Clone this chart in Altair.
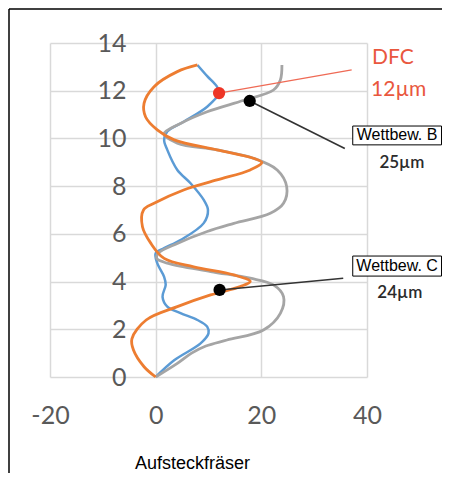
import altair as alt
import pandas as pd

# ---- data ----
blue_y = [0, 0.7, 1.41, 1.83, 2.11, 2.39, 2.68, 2.95, 3.36, 3.87, 4.2, 4.77, 5.19, 5.4, 5.74, 6.45, 7.0, 7.42, 8.12, 8.68, 9.52, 9.94, 10.29, 10.7, 11.33, 11.9, 12.17, 12.6, 13.08]
blue_x = [0, 3.5, 8.5, 10, 9.75, 7.9, 4.7, 2.2, 1.3, 1.9, 1.6, 0.3, 0, 1.6, 4.7, 9.1, 9.9, 9.1, 6.6, 4.1, 2.2, 1.6, 2.2, 5.3, 9.75, 12, 11.6, 9.8, 7.9]

orange_y = [0, 0.43, 1.13, 1.6, 2.39, 2.95, 3.44, 3.79, 4.0, 4.28, 4.62, 4.97, 5.6, 6.3, 7.0, 7.28, 7.84, 8.26, 8.68, 8.99, 9.17, 9.52, 9.94, 10.36, 10.9, 11.47, 12.17, 12.8, 13.08]
orange_x = [0, -2.2, -4.2, -4.5, -1.8, 4.1, 10.4, 16, 17.9, 14.8, 7.2, 1.6, -0.9, -2.5, -2.3, -0.3, 5.3, 11.6, 17.9, 20.1, 18.5, 11.6, 3.5, 0.3, -1.9, -2.2, -0.3, 4.1, 7.9]

gray_y = [0, 0.57, 1.0, 1.3, 1.55, 1.97, 2.67, 3.37, 3.86, 4.14, 4.42, 4.77, 4.97, 5.19, 5.6, 6.1, 6.44, 6.86, 7.28, 7.98, 8.68, 9.17, 9.52, 9.8, 10.2, 10.63, 11.12, 11.6, 12.03, 12.45, 13.08]
gray_x = [0, 4.1, 6.8, 9.5, 13.5, 20.4, 23.6, 24.2, 22.3, 17.9, 10.4, 2.2, 0.2, 0.5, 4.1, 9.75, 14.8, 21.7, 24.2, 24.8, 23, 18.5, 11.6, 4.1, 1.6, 4.7, 9.75, 16.7, 22.3, 23.6, 23.9]

# markers and their leader lines
pt_names = ["DFC", "Wettbew. B", "Wettbew. C"]
pt_x = [12, 17.8, 12.1]
pt_y = [11.9, 11.57, 3.65]
lead_x2 = [37.1, 35.8, 35.5]
lead_y2 = [12.87, 9.58, 4.14]
pt_colors = ["#ee3526", "#000000", "#000000"]
lead_colors = ["#ef6a55", "#333333", "#333333"]
lead_widths = [1.2, 1.6, 1.6]

# labels
dfc_text = ["DFC", "12µm"]
dfc_x = [44.9, 46.0]
dfc_y = [13.37, 12.03]
box_text = ["Wettbew. B", "Wettbew. C"]
box_x = [45.7, 45.7]
box_y = [10.13, 4.65]
box_x1 = [37.3, 37.3]
box_x2 = [54.1, 54.1]
box_y1 = [10.52, 5.07]
box_y2 = [9.73, 4.23]
val_text = ["25µm", "24µm"]
val_x = [46.6, 46.2]
val_y = [8.97, 3.52]

x_ticks = [-20, 0, 20, 40]
y_ticks = [0, 2, 4, 6, 8, 10, 12, 14]
x_title = "Aufsteckfräser"

W, H = 317, 334
PAD = {"left": 42, "top": 35, "right": 75, "bottom": 96}

def series_df(name, xs, ys):
    return pd.DataFrame({"series": name, "order": list(range(len(xs))), "x": xs, "y": ys})

xaxis = alt.Axis(values=x_ticks, grid=True, gridColor="#d9d9d9", gridWidth=1.5,
                 domain=False, ticks=False, labelPadding=26, labelFontSize=25,
                 labelFont="Lato", labelColor="#595959", labelExpr="'' + datum.value",
                 labelFlush=False, labelOverlap=False,
                 title=x_title, titleFont="Liberation Sans", titleFontSize=18,
                 titleFontWeight="normal", titleColor="#000000", titleX=142, titleY=86,
                 titleBaseline="middle", titleAlign="center")
yaxis = alt.Axis(values=y_ticks, grid=True, gridColor="#d9d9d9", gridWidth=1.5,
                 domain=False, ticks=False, offset=-105, labelPadding=29,
                 labelFlush=False, labelOverlap=False,
                 labelFontSize=25, labelFont="Lato", labelColor="#595959", title=None)

xscale = alt.Scale(domain=[-20, 40], nice=False, zero=False)
yscale = alt.Scale(domain=[0, 14], nice=False, zero=False)

def X(f="x"):
    return alt.X(f"{f}:Q", scale=xscale, axis=xaxis)

def Y(f="y"):
    return alt.Y(f"{f}:Q", scale=yscale, axis=yaxis)

def line_layer(name, xs, ys, color, w):
    return alt.Chart(series_df(name, xs, ys)).mark_line(
        color=color, strokeWidth=w, interpolate="catmull-rom", clip=False
    ).encode(x=X(), y=Y(), order="order:Q")

blue = line_layer("blue", blue_x, blue_y, "#5b9bd5", 2.5)
gray = line_layer("gray", gray_x, gray_y, "#a5a5a5", 2.8)
orange = line_layer("orange", orange_x, orange_y, "#ed7d31", 2.8)

pts_df = pd.DataFrame({"name": pt_names, "x": pt_x, "y": pt_y, "x2": lead_x2, "y2": lead_y2,
                       "pc": pt_colors, "lc": lead_colors, "lw": lead_widths})

leads = alt.Chart(pts_df).mark_rule(clip=False).encode(
    x=X(), y=Y(), x2="x2:Q", y2="y2:Q",
    color=alt.Color("lc:N", scale=None), strokeWidth=alt.StrokeWidth("lw:Q", scale=None))

points = alt.Chart(pts_df).mark_circle(size=150, opacity=1).encode(
    x=X(), y=Y(), color=alt.Color("pc:N", scale=None))

dfc_df = pd.DataFrame({"t": dfc_text, "x": dfc_x, "y": dfc_y})
dfc = alt.Chart(dfc_df).mark_text(font="Lato", fontSize=21, color="#e9573e",
                                  align="center", baseline="middle", clip=False).encode(
    x=X(), y=Y(), text="t:N")

box_df = pd.DataFrame({"t": box_text, "x": box_x, "y": box_y, "x1": box_x1, "x2": box_x2,
                       "y1": box_y1, "y2": box_y2})
boxes = alt.Chart(box_df).mark_rect(fill="white", stroke="black", strokeWidth=1, clip=False).encode(
    x=X("x1"), x2="x2:Q", y=Y("y1"), y2="y2:Q")
box_labels = alt.Chart(box_df).mark_text(font="Liberation Sans", fontSize=16, color="#000000",
                                         align="center", baseline="middle").encode(
    x=X(), y=Y(), text="t:N")

val_df = pd.DataFrame({"t": val_text, "x": val_x, "y": val_y})
vals = alt.Chart(val_df).mark_text(font="Lato", fontSize=17, fontWeight=600, color="#2b2b2b",
                                   align="center", baseline="middle").encode(
    x=X(), y=Y(), text="t:N")

frame = alt.Chart(pd.DataFrame({"k": [0]})).mark_rule(color="black", strokeWidth=1.5).encode(
    x=alt.value(-41), x2=alt.value(W + PAD["right"]), y=alt.value(-34), y2=alt.value(-34))
frame_left = alt.Chart(pd.DataFrame({"k": [0]})).mark_rule(color="black", strokeWidth=1.5).encode(
    x=alt.value(-41), y=alt.value(-34), y2=alt.value(H + PAD["bottom"]))

chart = alt.layer(
    blue, gray, orange, leads, points, dfc, boxes, box_labels, vals, frame, frame_left
).properties(
    width=W, height=H, padding=PAD,
    autosize=alt.AutoSizeParams(type="none"),
    background="white",
).configure_view(stroke=None)

chart.save("out.html", embed_options={"renderer": "svg", "actions": False})
